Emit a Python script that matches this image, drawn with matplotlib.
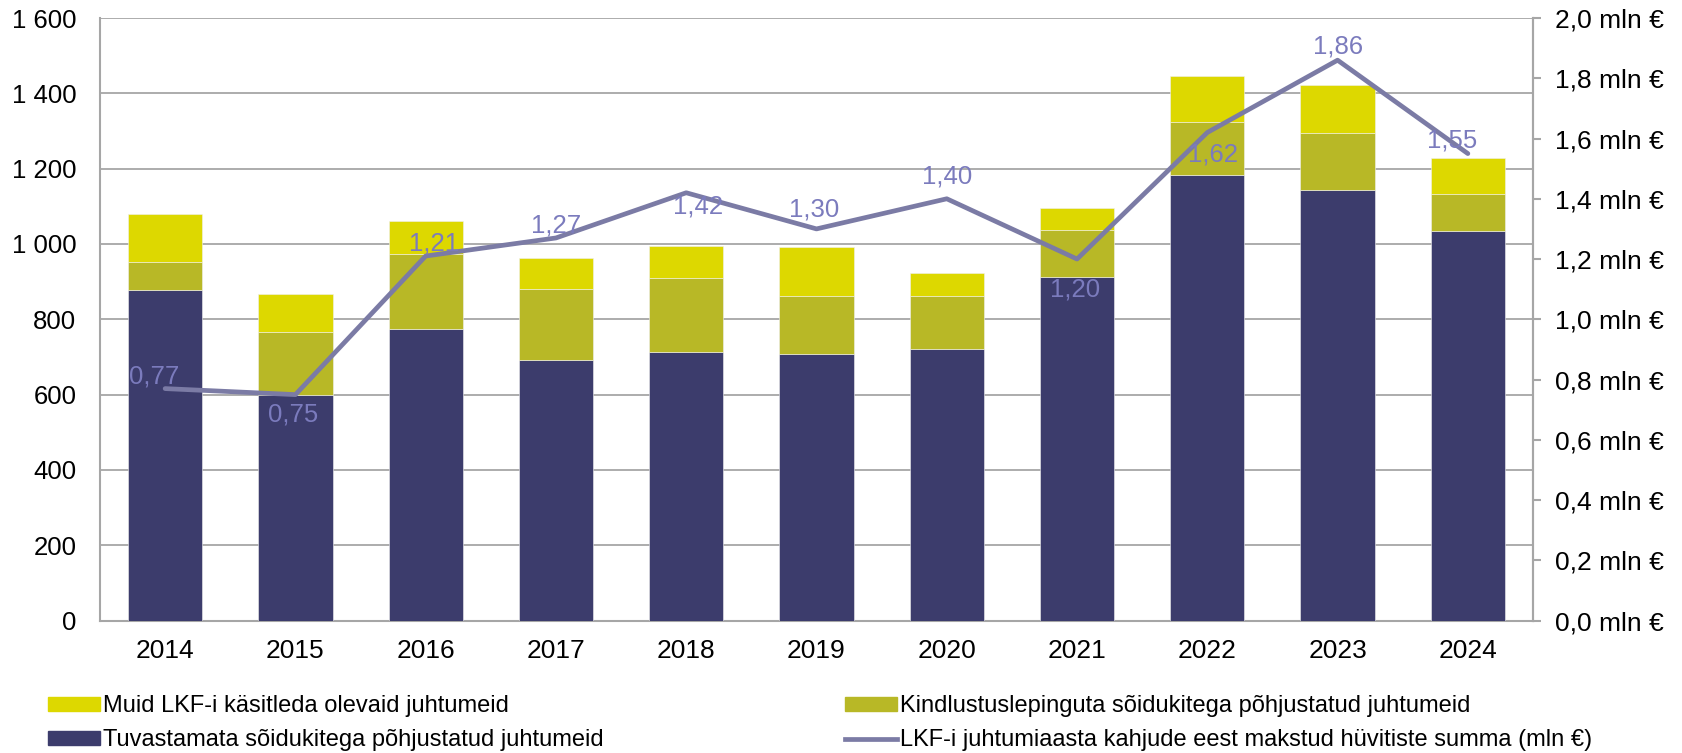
import matplotlib
matplotlib.use("Agg")
import matplotlib.pyplot as plt
import numpy as np
from matplotlib.patches import Patch
from matplotlib.lines import Line2D

plt.rcParams['font.family'] = ['Liberation Sans', 'DejaVu Sans']

years = ["2014", "2015", "2016", "2017", "2018", "2019", "2020", "2021", "2022", "2023", "2024"]
tuvastamata = [877, 599, 774, 691, 714, 708, 721, 913, 1184, 1144, 1035]
kindlustuslepinguta = [75, 168, 200, 189, 195, 155, 142, 125, 139, 151, 99]
muid = [127, 99, 88, 84, 86, 129, 60, 57, 122, 127, 94]
hyvitised = [0.77, 0.75, 1.21, 1.27, 1.42, 1.30, 1.40, 1.20, 1.62, 1.86, 1.55]

lbl_muid = "Muid LKF-i käsitleda olevaid juhtumeid"
lbl_kind = "Kindlustuslepinguta sõidukitega põhjustatud juhtumeid"
lbl_tuv = "Tuvastamata sõidukitega põhjustatud juhtumeid"
lbl_line = "LKF-i juhtumiaasta kahjude eest makstud hüvitiste summa (mln €)"

c_dark = "#3C3C6C"
c_olive = "#B8B826"
c_yellow = "#DDD800"
c_line = "#7B7BA5"
c_lbl = "#7B7BBD"
c_grid = "#A6A6A6"

# label offsets in points (style)
offsets = [(-8, 9), (-1.5, -14), (6, 9.3), (0, 9.3), (8.5, -10), (-1.5, 14),
           (0, 16), (-1.5, -21.6), (4, -15.5), (0, 10), (-11.5, 9.3)]

fig = plt.figure(figsize=(16.83, 7.53), dpi=100)
ax = fig.add_axes([100/1683, 132.4/753, 1433/1683, (620.6-18)/753])
x = np.arange(len(years))
w = 0.57
b1 = np.array(tuvastamata)
b2 = b1 + np.array(kindlustuslepinguta)
ax.bar(x, tuvastamata, w, color=c_dark, edgecolor="#F0F0F0", linewidth=0.4, zorder=3)
ax.bar(x, kindlustuslepinguta, w, bottom=b1, color=c_olive, edgecolor="#F0F0F0", linewidth=0.4, zorder=3)
ax.bar(x, muid, w, bottom=b2, color=c_yellow, edgecolor="#F0F0F0", linewidth=0.4, zorder=3)

ax.set_xlim(-0.5, len(years) - 0.5)
ax.set_ylim(0, 1600)
ax.set_yticks(np.arange(0, 1601, 200))
ax.set_yticklabels([f"{v:,}".replace(",", " ") for v in range(0, 1601, 200)])
ax.set_xticks(x)
ax.set_xticklabels(years)
ax.yaxis.grid(True, color=c_grid, linewidth=1.3, zorder=0)
ax.set_axisbelow(True)
ax.tick_params(axis='y', length=0, pad=17, labelsize=18.5)
ax.tick_params(axis='x', length=0, pad=13, labelsize=19)
ax.spines["top"].set_visible(False)
for s in ["left", "bottom", "right"]:
    ax.spines[s].set_color(c_grid)
    ax.spines[s].set_linewidth(1.5)

ax2 = ax.twinx()
ax2.set_ylim(0, 2.0)
ax2.set_yticks(np.arange(0, 2.01, 0.2))
ax2.set_yticklabels([f"{v:.1f}".replace(".", ",") + " mln €" for v in np.arange(0, 2.01, 0.2)])
ax2.tick_params(axis='y', length=6, width=1.5, color=c_grid, pad=10, labelsize=19)
for s in ["top", "left", "bottom"]:
    ax2.spines[s].set_visible(False)
ax2.spines["right"].set_color(c_grid)
ax2.spines["right"].set_linewidth(1.5)
ax2.plot(x, hyvitised, color=c_line, linewidth=3.4, solid_capstyle='round', zorder=5)
for xi, v, off in zip(x, hyvitised, offsets):
    ax2.annotate(f"{v:.2f}".replace(".", ","), (xi, v), xytext=off, textcoords="offset points",
                 ha="center", va="center", fontsize=18.5, color=c_lbl, zorder=6)

leg_kw = dict(frameon=False, fontsize=17, handlelength=2.2, handleheight=0.55,
              handletextpad=0.15, labelspacing=0.52, borderpad=0, borderaxespad=0)
h1 = [Patch(color=c_yellow), Patch(color=c_dark)]
fig.legend(h1, [lbl_muid, lbl_tuv], loc="upper left", bbox_to_anchor=(48/1683, 1 - 695/753), **leg_kw)
h2 = [Patch(color=c_olive), Line2D([0], [0], color=c_line, linewidth=3.4)]
fig.legend(h2, [lbl_kind, lbl_line], loc="upper left", bbox_to_anchor=(845/1683, 1 - 695/753), **leg_kw)

fig.savefig("out.png", dpi=100)
